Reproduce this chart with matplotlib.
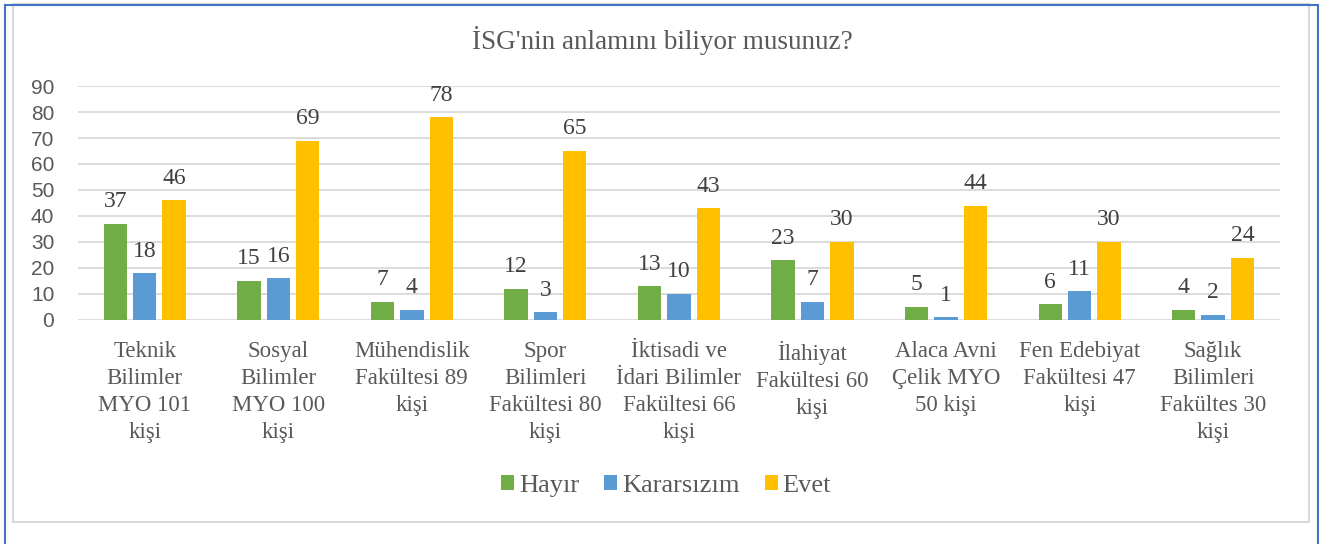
import numpy as np
import matplotlib
matplotlib.use("Agg")
from matplotlib import pyplot as plt
from matplotlib.patches import Rectangle

# data
categories = [
    "Teknik\nBilimler\nMYO 101\nkişi",
    "Sosyal\nBilimler\nMYO 100\nkişi",
    "Mühendislik\nFakültesi 89\nkişi",
    "Spor\nBilimleri\nFakültesi 80\nkişi",
    "İktisadi ve\nİdari Bilimler\nFakültesi 66\nkişi",
    "İlahiyat\nFakültesi 60\nkişi",
    "Alaca Avni\nÇelik MYO\n50 kişi",
    "Fen Edebiyat\nFakültesi 47\nkişi",
    "Sağlık\nBilimleri\nFakültes 30\nkişi",
]
hayir = [37, 15, 7, 12, 13, 23, 5, 6, 4]
kararsizim = [18, 16, 4, 3, 10, 7, 1, 11, 2]
evet = [46, 69, 78, 65, 43, 30, 44, 30, 24]
series_names = ["Hayır", "Kararsızım", "Evet"]
colors = ["#70AD47", "#5B9BD5", "#FFC000"]
title = "İSG'nin anlamını biliyor musunuz?"

text_col = "#595959"
serif = ["Liberation Serif", "DejaVu Serif"]

fig = plt.figure(figsize=(13.19, 5.44), dpi=100)
ax = fig.add_axes([0.0591, 0.4118, 0.9113, 0.4301])

x = np.arange(len(categories))
w = 0.175
step = 0.22
for i, (vals, name, c) in enumerate(zip([hayir, kararsizim, evet], series_names, colors)):
    bars = ax.bar(x + (i - 1) * step, vals, width=w, color=c, label=name, zorder=3)
    for b, v in zip(bars, vals):
        ax.annotate(str(v), (b.get_x() + b.get_width() / 2, v),
                    xytext=(0, 12), textcoords="offset points",
                    ha="center", va="baseline", fontsize=17,
                    family=serif, color="#404040")

ax.set_xlim(-0.5, len(categories) - 0.5)
ax.set_ylim(0, 90)
ax.set_yticks(np.arange(0, 91, 10))
ax.grid(axis="y", color="#D9D9D9", linewidth=1.3, zorder=0)
for s in ax.spines.values():
    s.set_visible(False)
ax.tick_params(axis="both", length=0)
ax.tick_params(axis="y", pad=17, labelsize=15, labelcolor=text_col)
ax.set_xticks(x)
ax.set_xticklabels(categories, family=serif, fontsize=16.5, color=text_col,
                   linespacing=1.38)
ax.tick_params(axis="x", pad=15)
for lab in ax.get_yticklabels():
    lab.set_family("Liberation Sans")

fig.text(0.502, 0.925, title, ha="center", va="center", fontsize=19.5,
         family=serif, color=text_col)

leg = ax.legend(loc="center", bbox_to_anchor=(0.505, 0.106),
                bbox_transform=fig.transFigure, ncol=3, frameon=False,
                prop={"family": serif, "size": 19}, handlelength=0.5,
                handleheight=0.5, handletextpad=0.18, columnspacing=0.95)
for t in leg.get_texts():
    t.set_color(text_col)

# chart frame and outer border
fig.patches.append(Rectangle((13 / 1319, 22 / 544), 1296 / 1319, 518 / 544,
                             transform=fig.transFigure, fill=False,
                             edgecolor="#D9D9D9", linewidth=1.5))
fig.patches.append(Rectangle((4.5 / 1319, -0.01), 1313 / 1319, 1.0, transform=fig.transFigure,
                             fill=False, edgecolor="#4472C4", linewidth=1.5))

fig.savefig("out.png", dpi=100)
